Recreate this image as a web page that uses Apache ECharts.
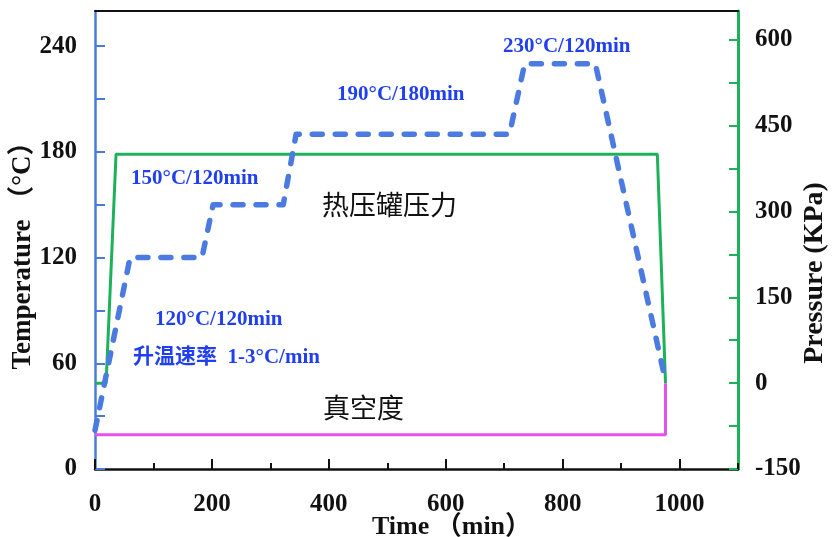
<!DOCTYPE html>
<html>
<head>
<meta charset="utf-8">
<script src="https://cdn.jsdelivr.net/npm/echarts@6/dist/echarts.min.js"></script>
<style>
  html, body { margin: 0; padding: 0; background: #fff; }
  #chart { width: 836px; height: 537px; }
</style>
</head>
<body>
<div id="chart"></div>
<script>
// ---- data ----
const timeTemp    = [0, 60, 183, 202, 322, 344, 709, 735, 856, 976];
const temperature = [22, 120, 120, 150, 150, 190, 190, 230, 230, 50];
const timePress   = [0, 19, 36, 962, 976];
const pressure    = [0, 0, 400, 400, 0];
const timeVac     = [0, 976, 976];
const vacuum      = [-90, -90, 0];
const xTickLabels = [0, 200, 400, 600, 800, 1000];
const tempTickLabels = [0, 60, 120, 180, 240];
const pressTickLabels = [-150, 0, 150, 300, 450, 600];
const annotations = [
  { text: '230°C/120min', x: 503, y: 47 },
  { text: '190°C/180min', x: 337, y: 95 },
  { text: '150°C/120min', x: 131, y: 179 },
  { text: '120°C/120min', x: 155, y: 320 },
  { text: '升温速率  1-3°C/min', x: 133, y: 358 }
];
const blackNotes = [
  { text: '热压罐压力', x: 322, y: 205 },
  { text: '真空度', x: 323, y: 408 }
];

const zip = (xs, ys) => xs.map((x, i) => [x, ys[i]]);

const SERIF = "'Liberation Serif', 'Times New Roman', 'Noto Sans CJK SC', serif";
const BLUE_AX = '#4a7bd6';
const GREEN = '#1db25a';
const labelStyle = { fontFamily: SERIF, fontSize: 25, fontWeight: 'bold', color: '#111' };
const nameStyle = { fontFamily: SERIF, fontSize: 27, fontWeight: 'bold', color: '#111' };

const chart = echarts.init(document.getElementById('chart'), null, { renderer: 'canvas' });

const option = {
  animation: false,
  backgroundColor: '#fff',
  grid: { left: 95, right: 98, top: 11, bottom: 68, containLabel: false, outerBoundsMode: 'none' },
  xAxis: [
    {
      type: 'value', position: 'bottom', min: 0, max: 1100, interval: 200,
      axisLine: { show: true, onZero: false, lineStyle: { color: '#111', width: 2.5 } },
      axisTick: { show: true, inside: true, length: 10, lineStyle: { color: '#111', width: 2 } },
      axisLabel: Object.assign({ margin: 23, showMaxLabel: false,
        formatter: v => xTickLabels.includes(v) ? String(v) : '' }, labelStyle),
      splitLine: { show: false },
      name: 'Time （min）', nameLocation: 'middle', nameGap: 45, nameMoveOverlap: false,
      nameTextStyle: Object.assign({ padding: [0, 0, 0, 70] }, nameStyle, { fontSize: 26 })
    },
    {
      type: 'value', position: 'bottom', min: 0, max: 1100, interval: 100,
      axisLine: { show: false, onZero: false },
      axisTick: { show: true, inside: true, length: 6, lineStyle: { color: '#111', width: 2 } },
      axisLabel: { show: false },
      splitLine: { show: false }
    },
    {
      type: 'value', position: 'top', min: 0, max: 1100,
      axisLine: { show: true, onZero: false, lineStyle: { color: '#111', width: 2 } },
      axisTick: { show: false }, axisLabel: { show: false }, splitLine: { show: false }
    }
  ],
  yAxis: [
    {
      type: 'value', position: 'left', min: 0, max: 260, interval: 30,
      axisLine: { show: true, onZero: false, lineStyle: { color: BLUE_AX, width: 2.5 } },
      axisTick: { show: true, inside: true, length: 10, lineStyle: { color: BLUE_AX, width: 2 } },
      axisLabel: Object.assign({ margin: 18, showMaxLabel: false,
        formatter: v => tempTickLabels.includes(v) ? String(v) : '' }, labelStyle),
      splitLine: { show: false },
      name: 'Temperature （°C）', nameLocation: 'middle', nameGap: 58, nameRotate: 90,
      nameMoveOverlap: false,
      nameTextStyle: Object.assign({ padding: [0, 18, 0, 0] }, nameStyle)
    },
    {
      type: 'value', position: 'right', min: -150, max: 650, interval: 75,
      axisLine: { show: true, onZero: false, lineStyle: { color: GREEN, width: 3 } },
      axisTick: { show: true, inside: true, length: 9, lineStyle: { color: GREEN, width: 2 } },
      axisLabel: Object.assign({ margin: 17, showMaxLabel: false,
        formatter: v => pressTickLabels.includes(v) ? String(v) : '' }, labelStyle),
      splitLine: { show: false },
      name: 'Pressure (KPa)', nameLocation: 'middle', nameGap: 63, nameRotate: 90,
      nameMoveOverlap: false,
      nameTextStyle: Object.assign({ padding: [0, 66, 0, 0] }, nameStyle, { fontSize: 28 })
    }
  ],
  series: [
    {
      name: 'pressure', type: 'line', xAxisIndex: 0, yAxisIndex: 1,
      data: zip(timePress, pressure), symbol: 'none', z: 2,
      lineStyle: { color: GREEN, width: 3 }
    },
    {
      name: 'vacuum', type: 'line', xAxisIndex: 0, yAxisIndex: 1,
      data: zip(timeVac, vacuum), symbol: 'none', z: 3,
      lineStyle: { color: '#e650ee', width: 3 }
    },
    {
      name: 'temperature', type: 'line', xAxisIndex: 0, yAxisIndex: 0,
      data: zip(timeTemp, temperature), symbol: 'none', z: 4,
      lineStyle: { color: '#4b7be0', width: 5.5, type: [10, 13], cap: 'round', join: 'round' }
    }
  ],
  graphic: annotations.map(a => ({
    type: 'text', x: a.x, y: a.y, z: 10,
    style: { text: a.text, fill: '#1f3ff0', fontSize: 21, fontWeight: 'bold',
      fontFamily: SERIF, verticalAlign: 'middle', align: 'left' }
  })).concat(blackNotes.map(a => ({
    type: 'text', x: a.x, y: a.y, z: 10,
    style: { text: a.text, fill: '#111', fontSize: 27, fontWeight: 'normal',
      fontFamily: "'Noto Sans CJK SC', sans-serif", verticalAlign: 'middle', align: 'left' }
  })))
};

chart.setOption(option);
</script>
</body>
</html>
